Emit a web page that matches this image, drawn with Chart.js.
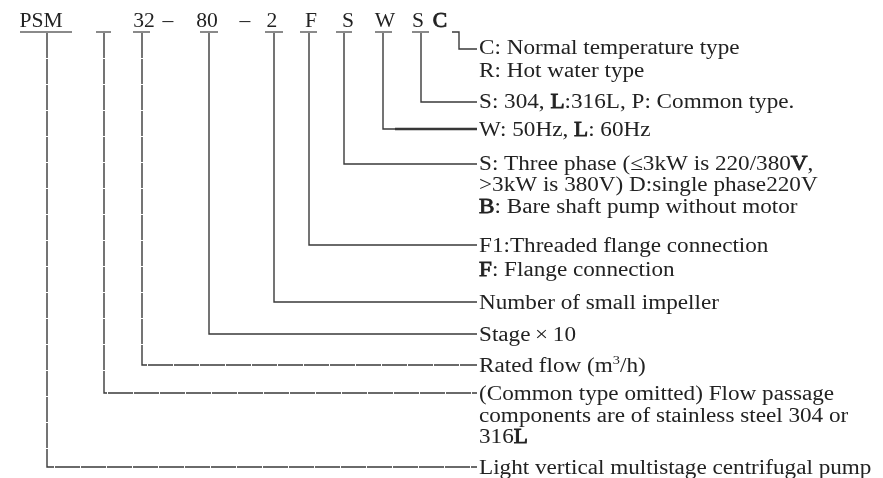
<!DOCTYPE html>
<html><head><meta charset="utf-8">
<script src="https://cdn.jsdelivr.net/npm/chart.js@4"></script>
<style>html,body{margin:0;padding:0;background:#fff}canvas{display:block}</style>
</head><body>
<canvas id="c" width="883" height="478"></canvas>
<script>
// Top row: characters of the model code (diagram units = page units)
const codeLabels  = ['PSM', '32', '–', '80', '–', '2', 'F', 'S', 'W', 'S', 'C'];
const codeCenters = [41, 144, 168, 207, 245, 272, 311, 348, 385, 418, 440];
const codeBold    = [false, false, false, false, false, false, false, false, false, false, true];

// Underline marks under each code field
const markStart = [20, 96, 133, 200, 265, 300, 336, 375, 412];
const markEnd   = [72, 111, 150, 218, 283, 317, 352, 392, 429];

// Leader lines: vertical position and the row they end on
const leaderX      = [47, 104, 142, 209, 274, 309, 344, 383, 421, 459];
const leaderEndY   = [467, 393, 365, 334, 302, 245, 164, 129, 102, 49];
const leaderDashed = [true, true, true, false, false, false, false, false, false, false];
const leaderTopY = 33;
const leaderEndX = 477;

// Descriptions ('*' toggles bold, '^' toggles superscript)
const descText = [
  'C: Normal temperature type',
  'R: Hot water type',
  'S: 304, *L*:316L, P: Common type.',
  'W: 50Hz, *L*: 60Hz',
  'S: Three phase (≤3kW is 220/380*V*,',
  '>3kW is 380V) D:single phase220V',
  '*B*: Bare shaft pump without motor',
  'F1:Threaded flange connection',
  '*F*: Flange connection',
  'Number of small impeller',
  'Stage\u2009×\u200910',
  'Rated flow (m^3^/h)',
  '(Common type omitted) Flow passage',
  'components are of stainless steel 304 or',
  '316*L*',
  'Light vertical multistage centrifugal pump'
];
const descY = [47, 70, 101, 129, 163, 184, 206, 245, 269, 302, 334, 365, 393, 415, 436, 467];
const descX = 479;

const LINE = '#3a3a3a';
const TEXT = '#222';
const FONT = '"Liberation Serif","Times New Roman",serif';

const datasets = [];
// underline marks
markStart.forEach((s, i) => {
  datasets.push({ data: [{x: s, y: 32}, {x: markEnd[i], y: 32}], borderColor: '#8a8a8a', borderWidth: 2 });
});
// leader lines
leaderX.forEach((x, i) => {
  const pts = (i === leaderX.length - 1)
    ? [{x: 452, y: 32}, {x: x, y: 32}, {x: x, y: leaderEndY[i]}, {x: leaderEndX, y: leaderEndY[i]}]
    : [{x: x, y: leaderTopY}, {x: x, y: leaderEndY[i]}, {x: leaderEndX, y: leaderEndY[i]}];
  datasets.push({ data: pts, borderColor: LINE, borderWidth: 1.4, borderDash: leaderDashed[i] ? [25, 1] : [] });
});
// heavier stroke on the W leader
datasets.push({ data: [{x: 395, y: 129}, {x: leaderEndX, y: 129}], borderColor: '#333', borderWidth: 2.6 });
datasets.forEach(d => { d.showLine = true; d.pointRadius = 0; d.fill = false; d.tension = 0; });

function drawRich(ctx, str, x, y, size, sx, align) {
  const parts = [];
  let bold = false, sup = false, buf = '';
  for (const ch of str) {
    if (ch === '*' || ch === '^') {
      if (buf) parts.push({t: buf, bold, sup});
      buf = '';
      if (ch === '*') bold = !bold; else sup = !sup;
    } else buf += ch;
  }
  if (buf) parts.push({t: buf, bold, sup});
  const fontOf = p => (p.sup ? size * 0.62 : size) + 'px ' + FONT;
  let w = 0;
  parts.forEach(p => { ctx.font = fontOf(p); p.w = ctx.measureText(p.t).width; w += p.w; });
  ctx.save();
  ctx.translate(align === 'center' ? x - w * sx / 2 : x, y);
  ctx.scale(sx, 1);
  let cx = 0;
  parts.forEach(p => {
    ctx.font = fontOf(p);
    const yy = p.sup ? -size * 0.38 : 0;
    ctx.fillText(p.t, cx, yy);
    if (p.bold) {
      ctx.strokeStyle = ctx.fillStyle;
      ctx.lineWidth = 0.8;
      ctx.strokeText(p.t, cx, yy);
    }
    cx += p.w;
  });
  ctx.restore();
}

const textPlugin = {
  id: 'texts',
  afterDatasetsDraw(chart) {
    const ctx = chart.ctx, xs = chart.scales.x, ys = chart.scales.y;
    ctx.save();
    ctx.fillStyle = TEXT;
    ctx.textBaseline = 'alphabetic';
    codeLabels.forEach((t, i) => {
      drawRich(ctx, codeBold[i] ? '*' + t + '*' : t, xs.getPixelForValue(codeCenters[i]), ys.getPixelForValue(27), 20, 1.08, 'center');
    });
    descText.forEach((t, i) => {
      drawRich(ctx, t, xs.getPixelForValue(descX), ys.getPixelForValue(descY[i] + 6.8), 20.5, 1.13, 'left');
    });
    ctx.restore();
  }
};

new Chart(document.getElementById('c'), {
  type: 'scatter',
  data: { datasets },
  options: {
    responsive: false,
    animation: false,
    layout: { padding: 0 },
    plugins: { legend: { display: false }, tooltip: { enabled: false } },
    scales: {
      x: { type: 'linear', min: 0, max: 883, display: false },
      y: { type: 'linear', min: 0, max: 478, reverse: true, display: false }
    }
  },
  plugins: [textPlugin]
});
</script>
</body></html>
